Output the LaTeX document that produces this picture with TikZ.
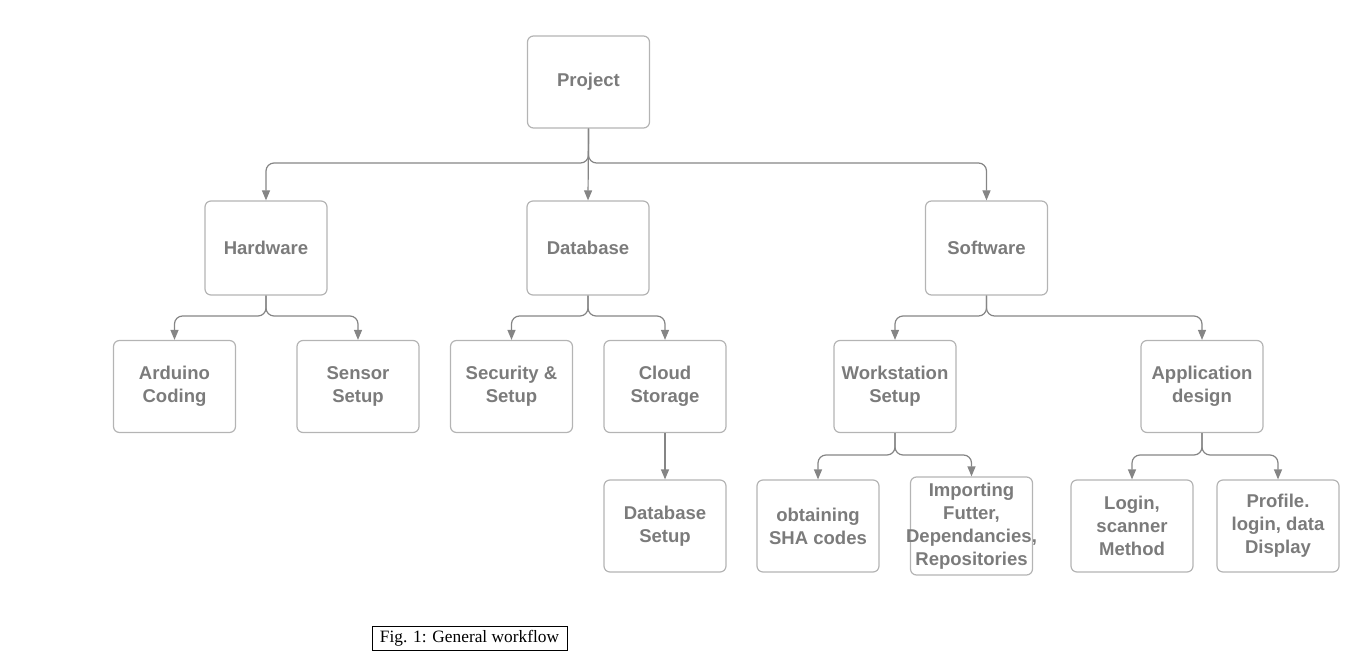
\documentclass[tikz,border=0pt]{standalone}
\usepackage{fontspec}
\setmainfont{Liberation Sans}
\newfontfamily\capfont{Liberation Serif}
\usetikzlibrary{arrows.meta}
\definecolor{boxgray}{HTML}{B4B4B4}
\definecolor{txtgray}{HTML}{7B7B7B}
\definecolor{linegray}{HTML}{858585}
\begin{document}
\begin{tikzpicture}[x=0.75pt,y=-0.75pt,
  box/.style={draw=boxgray, line width=0.9pt, rounded corners=4.5pt,
    minimum width=91.5pt, minimum height=69pt, align=center, text=txtgray,
    inner sep=0pt, font=\bfseries\fontsize{13.9}{17.25}\selectfont},
  tallbox/.style={box, minimum height=70.5pt},
  edge/.style={draw=linegray, line width=0.9pt, rounded corners=6pt,
    -{Triangle[length=7.5pt,width=6pt]}, fill=none},
  caption/.style={draw=black, line width=0.6pt, minimum width=146.25pt,
    minimum height=18pt, inner sep=0pt, font=\capfont\fontsize{13}{15}\selectfont}]
\useasboundingbox (0,0) rectangle (1357,656);
% level 0
\node[box] (P) at (588.5,82) {Project};
% level 1
\node[tallbox] (H) at (266,248) {Hardware};
\node[tallbox] (D) at (588,248) {Database};
\node[tallbox] (S) at (986.5,248) {Software};
% level 2
\node[box] (A) at (174.5,386.5) {Arduino\\Coding};
\node[box] (SS) at (358,386.5) {Sensor\\Setup};
\node[box] (SE) at (511.5,386.5) {Security \&\\Setup};
\node[box] (C) at (665,386.5) {Cloud\\Storage};
\node[box] (W) at (895,386.5) {Workstation\\Setup};
\node[box] (AD) at (1202,386.5) {Application\\design};
% level 3
\node[box] (DS) at (665,526) {Database\\Setup};
\node[box] (SHA) at (818,526) {obtaining\\SHA codes};
\node[box, minimum height=73.5pt] (I) at (971.5,526) {Importing\\Futter,\\\makebox[0pt]{Dependancies,}\\Repositories};
\node[box] (L) at (1132,526) {Login,\\scanner\\Method};
\node[box] (PR) at (1278,526) {Profile.\\login, data\\Display};
% caption
\node[caption] (cap) at (469.5,638) {Fig. 1: General workflow};
% bus coordinates
\coordinate (b1) at (0,163);
\coordinate (b2) at (0,316);
\coordinate (b3) at (0,455);
% edges
\draw[edge] (P.south) -- (P.south |- b1) -- (H.north |- b1) -- (H.north);
\draw[edge] (P.south) -- (D.north);
\draw[edge] (P.south) -- (P.south |- b1) -- (S.north |- b1) -- (S.north);
\draw[edge] (H.south) -- (H.south |- b2) -- (A.north |- b2) -- (A.north);
\draw[edge] (H.south) -- (H.south |- b2) -- (SS.north |- b2) -- (SS.north);
\draw[edge] (D.south) -- (D.south |- b2) -- (SE.north |- b2) -- (SE.north);
\draw[edge] (D.south) -- (D.south |- b2) -- (C.north |- b2) -- (C.north);
\draw[edge] (S.south) -- (S.south |- b2) -- (W.north |- b2) -- (W.north);
\draw[edge] (S.south) -- (S.south |- b2) -- (AD.north |- b2) -- (AD.north);
\draw[edge] (C.south) -- (DS.north);
\draw[edge] (W.south) -- (W.south |- b3) -- (SHA.north |- b3) -- (SHA.north);
\draw[edge] (W.south) -- (W.south |- b3) -- (I.north |- b3) -- (I.north);
\draw[edge] (AD.south) -- (AD.south |- b3) -- (L.north |- b3) -- (L.north);
\draw[edge] (AD.south) -- (AD.south |- b3) -- (PR.north |- b3) -- (PR.north);
\end{tikzpicture}
\end{document}
